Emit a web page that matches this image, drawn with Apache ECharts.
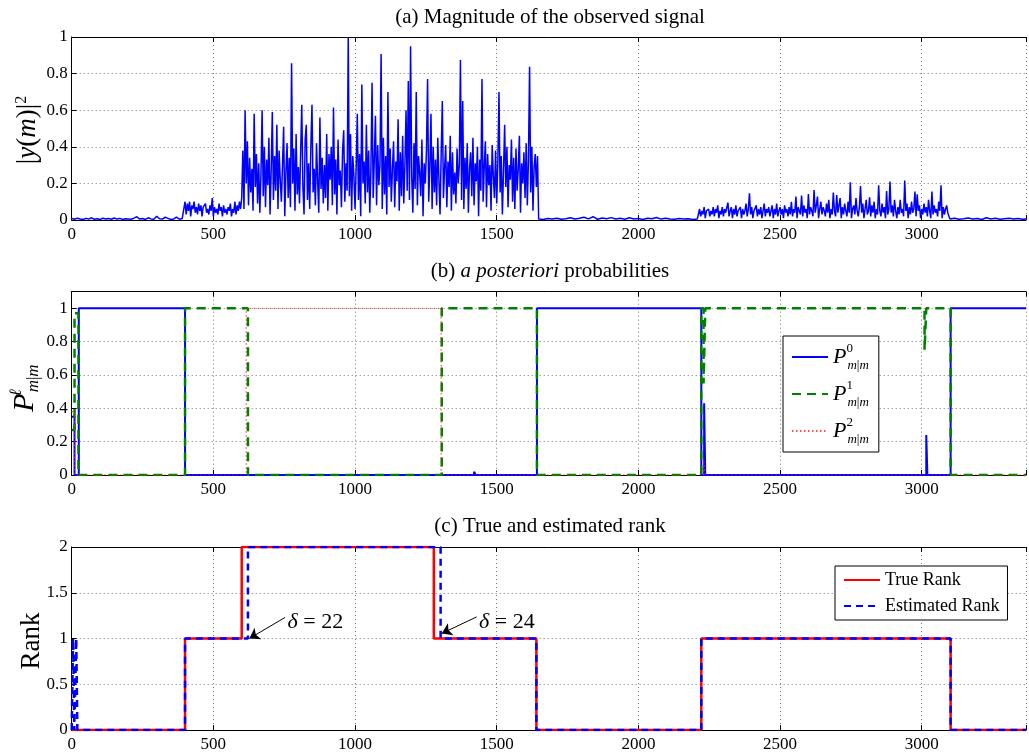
<!DOCTYPE html>
<html><head><meta charset="utf-8">
<script src="https://cdn.jsdelivr.net/npm/echarts@6/dist/echarts.min.js"></script>
<style>html,body{margin:0;padding:0;background:#fff}#c{width:1029px;height:755px}</style>
</head><body><div id="c"></div><script>
// ---------- DATA ----------
const X_MAX = 3368;
// (a) |y(m)|^2, sampled segments: start index, step, values
const sigQuietAStart = 0, sigQuietAStep = 10;
const sigQuietA = [0.008,0.004,0.010,0.006,0.003,0.009,0.005,0.012,0.004,0.007,0.003,0.010,0.006,0.008,0.004,0.011,0.005,0.009,0.003,0.007,0.006,0.004,0.010,0.018,0.005,0.008,0.003,0.012,0.006,0.004,0.020,0.007,0.005,0.015,0.009,0.003,0.006,0.016,0.004,0.008];
const sigLowStart = 400, sigLowStep = 4;
const sigLow = [0.10,0.03,0.09,0.05,0.10,0.02,0.08,0.06,0.10,0.04,0.07,0.03,0.09,0.05,0.08,0.02,0.07,0.06,0.09,0.04,0.06,0.03,0.08,0.05,0.12,0.02,0.07,0.04,0.06,0.03,0.09,0.05,0.07,0.02,0.08,0.04,0.06,0.03,0.07,0.05,0.09,0.02,0.06,0.04,0.10,0.03,0.08,0.05,0.10,0.06];
const sigHighStart = 600, sigHighStep = 4;
const sigHigh = [
0.12,0.38,0.06,0.60,0.20,0.43,0.08,0.34,0.15,0.28,
0.05,0.58,0.18,0.36,0.09,0.31,0.04,0.25,0.60,0.13,
0.40,0.07,0.33,0.19,0.45,0.03,0.27,0.59,0.11,0.35,
0.16,0.52,0.06,0.38,0.22,0.10,0.30,0.51,0.02,0.26,
0.42,0.12,0.34,0.07,0.856,0.20,0.39,0.05,0.47,0.14,
0.29,0.09,0.37,0.63,0.18,0.03,0.44,0.52,0.11,0.31,
0.06,0.40,0.63,0.15,0.28,0.08,0.42,0.21,0.04,0.56,
0.17,0.34,0.09,0.30,0.12,0.47,0.05,0.36,0.22,0.40,
0.08,0.615,0.14,0.33,0.03,0.44,0.19,0.27,0.07,0.38,
0.49,0.10,0.31,0.16,1.0,0.13,0.47,0.05,0.35,0.24,
0.06,0.29,0.58,0.11,0.36,0.02,0.74,0.20,0.32,0.09,
0.52,0.15,0.38,0.04,0.27,0.75,0.12,0.33,0.57,0.08,
0.41,0.19,0.30,0.907,0.06,0.45,0.14,0.35,0.03,0.70,
0.18,0.39,0.10,0.28,0.43,0.07,0.32,0.21,0.55,0.05,
0.37,0.13,0.46,0.09,0.30,0.60,0.16,0.76,0.11,0.95,
0.24,0.04,0.42,0.17,0.70,0.08,0.35,0.26,0.13,0.44,
0.02,0.31,0.20,0.38,0.77,0.10,0.29,0.58,0.06,0.40,
0.15,0.33,0.08,0.45,0.22,0.03,0.36,0.65,0.12,0.28,
0.41,0.07,0.32,0.18,0.46,0.05,0.37,0.14,0.26,0.09,
0.39,0.20,0.30,0.874,0.11,0.65,0.06,0.34,0.17,0.42,
0.04,0.28,0.37,0.13,0.45,0.08,0.31,0.21,0.40,0.02,
0.33,0.16,0.77,0.10,0.29,0.43,0.07,0.36,0.19,0.30,
0.05,0.41,0.24,0.12,0.38,0.09,0.32,0.70,0.15,0.35,
0.03,0.27,0.52,0.18,0.40,0.07,0.30,0.22,0.44,0.10,
0.34,0.06,0.39,0.16,0.28,0.46,0.04,0.31,0.20,0.37,
0.12,0.42,0.08,0.33,0.838,0.15,0.40,0.05,0.29,0.36,
0.18,0.35];
const sigQuietBStart = 1648, sigQuietBStep = 16;
const sigQuietB = [0.006,0.003,0.008,0.005,0.010,0.004,0.007,0.012,0.005,0.009,0.015,0.006,0.018,0.004,0.011,0.007,0.013,0.005,0.009,0.004,0.012,0.006,0.008,0.003,0.010,0.007,0.014,0.005,0.009,0.006,0.004,0.008,0.005,0.007,0.003,0.006];
const sigMidStart = 2216, sigMidStep = 4;
const sigMid = [
0.06,0.02,0.05,0.03,0.07,0.01,0.05,0.04,0.06,0.02,
0.05,0.03,0.07,0.02,0.06,0.04,0.08,0.01,0.05,0.03,
0.07,0.02,0.06,0.04,0.03,0.095,0.02,0.05,0.07,0.01,
0.06,0.03,0.08,0.02,0.05,0.04,0.07,0.01,0.06,0.03,
0.05,0.09,0.02,0.06,0.146,0.03,0.07,0.01,0.05,0.04,
0.08,0.02,0.06,0.03,0.07,0.01,0.05,0.09,0.02,0.06,
0.04,0.07,0.02,0.05,0.08,0.01,0.06,0.03,0.09,0.02,
0.05,0.07,0.03,0.06,0.01,0.08,0.04,0.06,0.02,0.07,
0.03,0.10,0.02,0.06,0.04,0.128,0.01,0.07,0.05,0.03,
0.133,0.02,0.08,0.04,0.06,0.01,0.142,0.03,0.07,0.05,
0.02,0.164,0.04,0.08,0.128,0.01,0.06,0.10,0.03,0.07,
0.05,0.02,0.09,0.04,0.11,0.01,0.06,0.03,0.15,0.05,
0.02,0.137,0.04,0.08,0.12,0.01,0.07,0.03,0.09,0.05,
0.02,0.10,0.04,0.206,0.01,0.06,0.08,0.03,0.12,0.05,
0.02,0.07,0.186,0.04,0.09,0.01,0.06,0.11,0.03,0.05,
0.124,0.02,0.08,0.04,0.10,0.01,0.06,0.03,0.19,0.05,
0.02,0.09,0.04,0.07,0.01,0.158,0.03,0.06,0.21,0.04,
0.08,0.02,0.11,0.05,0.01,0.07,0.03,0.11,0.04,0.06,
0.02,0.216,0.05,0.09,0.01,0.07,0.03,0.10,0.04,0.06,
0.156,0.02,0.14,0.05,0.08,0.01,0.06,0.03,0.09,0.04,
0.07,0.02,0.11,0.05,0.01,0.155,0.03,0.08,0.04,0.06,
0.02,0.10,0.05,0.19,0.01,0.07,0.03,0.06,0.08,0.04,
0.02];
const sigQuietCStart = 3100, sigQuietCStep = 16;
const sigQuietC = [0.005,0.009,0.004,0.007,0.011,0.005,0.008,0.003,0.012,0.006,0.009,0.004,0.007,0.010,0.005,0.008,0.004,0.006];

// (b) a posteriori probabilities (change points, value holds until next point)
const p0X = [0, 10, 25, 400, 1420, 1426, 1642, 2222, 2232, 2236, 3016, 3020, 3102, 3368];
const p0Y = [0.35, 0, 1, 0, 0.02, 0, 1, 0, 0.43, 0, 0.24, 0, 1, 1];
const p1X = [0, 10, 24, 400, 622, 1306, 1642, 2222, 2230, 2236, 3010, 3016, 3102, 3368];
const p1Y = [0.27, 0.97, 0, 1, 0, 1, 0, 1, 0.55, 1, 0.75, 1, 0, 0];
const p2X = [0, 10, 616, 1304, 2230, 2236, 3368];
const p2Y = [0.38, 0, 1, 0, 0.1, 0, 0];

// (c) true and estimated rank (change points)
const trueX = [0, 400, 600, 1278, 1640, 2222, 3102, 3368];
const trueY = [0, 1, 2, 1, 0, 1, 0, 0];
const estX = [0, 5, 9, 16, 20, 400, 622, 1302, 1640, 2222, 3102, 3368];
const estY = [0, 1, 0, 1, 0, 1, 2, 1, 0, 1, 0, 0];

// annotations
const deltaLabels = ['22', '24'];
const arrowTail = [[753, 1.23], [1429, 1.236]];
const arrowTip = [[627, 1.0], [1306, 1.055]];

// ---------- BUILD ----------
const FONT = "'Liberation Serif', 'DejaVu Serif', serif";
function seg(start, step, vals) { return vals.map((v, i) => [start + i * step, v]); }
function pairs(xs, ys) { return xs.map((x, i) => [x, ys[i]]); }
const sigData = [].concat(
  seg(sigQuietAStart, sigQuietAStep, sigQuietA),
  seg(sigLowStart, sigLowStep, sigLow),
  seg(sigHighStart, sigHighStep, sigHigh),
  seg(sigQuietBStart, sigQuietBStep, sigQuietB),
  seg(sigMidStart, sigMidStep, sigMid),
  seg(sigQuietCStart, sigQuietCStep, sigQuietC));

const grids = [
  {left: 71.7, right: 0, top: 37, height: 183},
  {left: 71.7, right: 0, top: 291.7, height: 183.3},
  {left: 71.7, right: 0, top: 547, height: 183}
];
const gridLine = {show: true, lineStyle: {color: '#777', type: [1, 3], width: 1}};
function xBottom(g) {
  return {type: 'value', gridIndex: g, min: 0, max: X_MAX, interval: 500,
    axisLine: {show: true, onZero: false, lineStyle: {color: '#000', width: 1}},
    axisTick: {show: true, inside: true, length: 5, lineStyle: {color: '#000'}},
    axisLabel: {show: true, color: '#000', fontFamily: FONT, fontSize: 17, margin: 6,
      formatter: v => (v % 500 === 0 ? String(v) : '')},
    splitLine: gridLine};
}
function xTop(g) {
  return {type: 'value', gridIndex: g, position: 'top', min: 0, max: X_MAX, interval: 500,
    axisLine: {show: true, onZero: false, lineStyle: {color: '#000', width: 1}},
    axisTick: {show: true, inside: true, length: 5, lineStyle: {color: '#000'}},
    axisLabel: {show: false}, splitLine: {show: false}};
}
function yLeft(g, max, interval) {
  return {type: 'value', gridIndex: g, min: 0, max: max, interval: interval,
    axisLine: {show: true, onZero: false, lineStyle: {color: '#000', width: 1}},
    axisTick: {show: true, inside: true, length: 5, lineStyle: {color: '#000'}},
    axisLabel: {show: true, color: '#000', fontFamily: FONT, fontSize: 17, margin: 4,
      formatter: v => (v > 1.05 && max < 1.5 ? '' : String(v))},
    splitLine: gridLine};
}
function stepLine(name, xi, data, color, width, type, z, opacity) {
  return {name: name, type: 'line', xAxisIndex: xi, yAxisIndex: xi, step: 'end',
    data: data, showSymbol: false, symbol: 'none', z: z,
    lineStyle: {color: color, width: width, type: type, opacity: opacity == null ? 1 : opacity},
    itemStyle: {color: color}, emphasis: {disabled: true}};
}
const legendCommon = {orient: 'vertical', selectedMode: false, backgroundColor: '#fff',
  borderColor: '#000', borderWidth: 1, borderRadius: 0, itemWidth: 36, itemHeight: 14,
  itemStyle: {opacity: 0, borderWidth: 0}};

const chart = echarts.init(document.getElementById('c'), null, {renderer: 'canvas'});
chart.setOption({
  animation: false,
  backgroundColor: '#fff',
  grid: grids,
  xAxis: [xBottom(0), xBottom(1), xBottom(2), xTop(0), xTop(1), xTop(2)],
  yAxis: [yLeft(0, 1, 0.2), yLeft(1, 1.1, 0.2), yLeft(2, 2, 0.5)],
  legend: [
    Object.assign({}, legendCommon, {data: ['P0', 'P1', 'P2'], left: 783, top: 336,
      padding: [6, 10, 6, 8], itemGap: 7,
      formatter: n => '{p|P}{s|' + n.slice(1) + '}{b|m}{u||}{b|m}',
      textStyle: {color: '#000', fontFamily: FONT, rich: {
        p: {fontFamily: FONT, fontStyle: 'italic', fontSize: 22, lineHeight: 30, verticalAlign: 'middle'},
        s: {fontFamily: FONT, fontSize: 13, lineHeight: 14, verticalAlign: 'top', width: 1},
        b: {fontFamily: FONT, fontStyle: 'italic', fontSize: 13, lineHeight: 14, verticalAlign: 'bottom'},
        u: {fontFamily: FONT, fontSize: 13, lineHeight: 14, verticalAlign: 'bottom'}
      }}}),
    Object.assign({}, legendCommon, {data: ['True Rank', 'Estimated Rank'], left: 835, top: 566,
      padding: [4, 8, 4, 8], itemGap: 6,
      textStyle: {color: '#000', fontFamily: FONT, fontSize: 18, lineHeight: 20}})
  ],
  graphic: [
    {type: 'text', x: 550, y: 17, style: {text: '(a) Magnitude of the observed signal',
      fontFamily: FONT, fontSize: 21, fill: '#000', align: 'center', verticalAlign: 'middle'}},
    {type: 'text', x: 550, y: 271, style: {text: '(b) {i|a posteriori} probabilities',
      fontFamily: FONT, fontSize: 21, fill: '#000', align: 'center', verticalAlign: 'middle',
      rich: {i: {fontFamily: FONT, fontSize: 21, fontStyle: 'italic'}}}},
    {type: 'text', x: 550, y: 526, style: {text: '(c) True and estimated rank',
      fontFamily: FONT, fontSize: 21, fill: '#000', align: 'center', verticalAlign: 'middle'}},
    {type: 'text', x: 28, y: 130, rotation: Math.PI / 2, style: {
      text: '|{i|y}({i|m})|{s|2}', fontFamily: FONT, fontSize: 27, lineHeight: 28, fill: '#000',
      align: 'center', verticalAlign: 'middle',
      rich: {i: {fontFamily: FONT, fontSize: 27, fontStyle: 'italic', lineHeight: 28},
             s: {fontFamily: FONT, fontSize: 16, verticalAlign: 'top', lineHeight: 16}}}},
    {type: 'text', x: 25, y: 388, rotation: Math.PI / 2, style: {
      text: '{p|P}{s|\u2113}{b|m}{u||}{b|m}', fill: '#000', align: 'center', verticalAlign: 'middle',
      rich: {p: {fontFamily: FONT, fontSize: 30, fontStyle: 'italic', lineHeight: 34, verticalAlign: 'middle'},
             s: {fontFamily: FONT, fontSize: 17, fontStyle: 'italic', lineHeight: 17, verticalAlign: 'top', width: 1},
             b: {fontFamily: FONT, fontSize: 17, fontStyle: 'italic', lineHeight: 17, verticalAlign: 'bottom'},
             u: {fontFamily: FONT, fontSize: 17, lineHeight: 17, verticalAlign: 'bottom'}}}},
    {type: 'text', x: 32, y: 641, rotation: Math.PI / 2, style: {text: 'Rank',
      fontFamily: FONT, fontSize: 27, fill: '#000', align: 'center', verticalAlign: 'middle'}}
  ],
  series: [
    {name: 'signal', type: 'line', xAxisIndex: 0, yAxisIndex: 0, data: sigData,
      showSymbol: false, symbol: 'none', sampling: null, z: 2,
      lineStyle: {color: '#0000ff', width: 1.5}, emphasis: {disabled: true}},
    stepLine('P0', 1, pairs(p0X, p0Y), '#0000ff', 2, 'solid', 2),
    stepLine('P1', 1, pairs(p1X, p1Y), '#008000', 2.5, [9, 6], 3),
    stepLine('P2', 1, pairs(p2X, p2Y), '#ff2020', 1.2, [1.5, 2.5], 4, 0.8),
    stepLine('True Rank', 2, pairs(trueX, trueY), '#ff0000', 2.5, 'solid', 2),
    Object.assign(stepLine('Estimated Rank', 2, pairs(estX, estY), '#0000ff', 2.5, [7, 5], 3), {
      markLine: {silent: true, symbol: ['none', 'arrow'], symbolSize: 10, precision: 3, z: 10,
        lineStyle: {color: '#000', width: 1, type: 'solid'},
        itemStyle: {color: '#000'}, label: {show: false},
        emphasis: {disabled: true},
        data: arrowTail.map((t, i) => [{coord: t}, {coord: arrowTip[i]}])},
      markPoint: {silent: true, symbol: 'rect', symbolSize: 1,
        itemStyle: {color: 'rgba(0,0,0,0)'},
        label: {show: true, position: 'right', distance: 2, color: '#000',
          fontFamily: FONT, fontSize: 22,
          formatter: p => '{g|\u03b4} = ' + p.value,
          rich: {g: {fontFamily: FONT, fontStyle: 'italic', fontSize: 22}}},
        data: arrowTail.map((t, i) => ({coord: [t[0], 1.178], value: deltaLabels[i]}))}
    })
  ]
});
</script></body></html>
